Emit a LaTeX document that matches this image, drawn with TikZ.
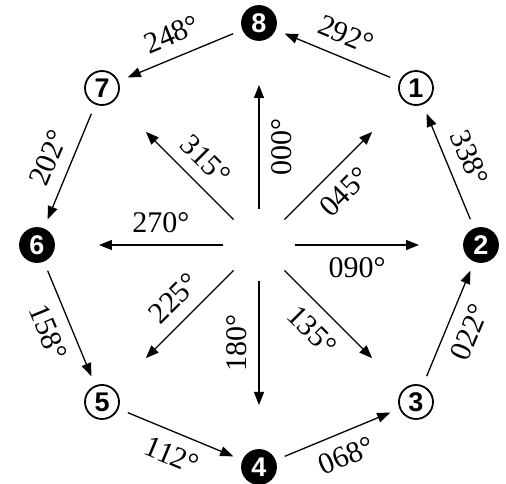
\documentclass[tikz,border=0pt]{standalone}
\usepackage{fontspec}
\setmainfont{Liberation Serif}
\newfontfamily\wpsans{Liberation Sans}
\usetikzlibrary{arrows.meta}

\begin{document}
\begin{tikzpicture}[x=1pt, y=1pt,
        wp/.style={circle, draw=black, line width=1.8pt, fill=white, minimum size=34pt, inner sep=0pt, font=\wpsans\bfseries\fontsize{27}{27}\selectfont},
        wpdark/.style={wp, fill=black, text=white},
        arr/.style={-{Triangle[length=13pt, width=10pt]}, line width=1.3pt},
        leg/.style={arr, shorten >=10pt, shorten <=10pt},
        hdg/.style={font=\fontsize{30}{30}\selectfont, inner sep=2pt, sloped}]
      \useasboundingbox (-259,-239) rectangle (247,245);
      % waypoints round the ring
      \node[wpdark] (p8) at (90:222) {8};
      \node[wp] (p1) at (45:222) {1};
      \node[wpdark] (p2) at (0:222) {2};
      \node[wp] (p3) at (-45:222) {3};
      \node[wpdark] (p4) at (-90:222) {4};
      \node[wp] (p5) at (-135:222) {5};
      \node[wpdark] (p6) at (180:222) {6};
      \node[wp] (p7) at (135:222) {7};
      % compass rays from the middle
      \foreach \h/\a in {000/90, 045/45, 090/0, 135/-45, 180/-90, 225/-135, 270/180, 315/135} {
        \coordinate (s\h) at (\a:36);
        \coordinate (e\h) at (\a:160);
      }
      \draw[arr] (s000) -- node[hdg, below=10pt] {000°} (e000);
      \draw[arr] (s045) -- node[hdg, below=10pt] {045°} (e045);
      \draw[arr] (s090) -- node[hdg, below=10pt] {090°} (e090);
      \draw[arr] (s135) -- node[hdg, below=10pt] {135°} (e135);
      \draw[arr, {Triangle[length=13pt, width=10pt]}-] (e180) -- node[hdg, above=10pt] {180°} (s180);
      \draw[arr] (s225) -- node[hdg, above=10pt] {225°} (e225);
      \draw[arr] (s270) -- node[hdg, above=10pt] {270°} (e270);
      \draw[arr] (s315) -- node[hdg, above=10pt] {315°} (e315);
      % legs of the ring
      \draw[leg] (p8) -- node[hdg, above=10pt] {248°} (p7);
      \draw[leg] (p7) -- node[hdg, above=10pt] {202°} (p6);
      \draw[leg] (p6) -- node[hdg, below=10pt] {158°} (p5);
      \draw[leg] (p5) -- node[hdg, below=10pt] {112°} (p4);
      \draw[leg] (p4) -- node[hdg, below=10pt] {068°} (p3);
      \draw[leg] (p3) -- node[hdg, below=10pt] {022°} (p2);
      \draw[leg] (p2) -- node[hdg, above=10pt] {338°} (p1);
      \draw[leg] (p1) -- node[hdg, above=10pt] {292°} (p8);
    \end{tikzpicture}
\end{document}
